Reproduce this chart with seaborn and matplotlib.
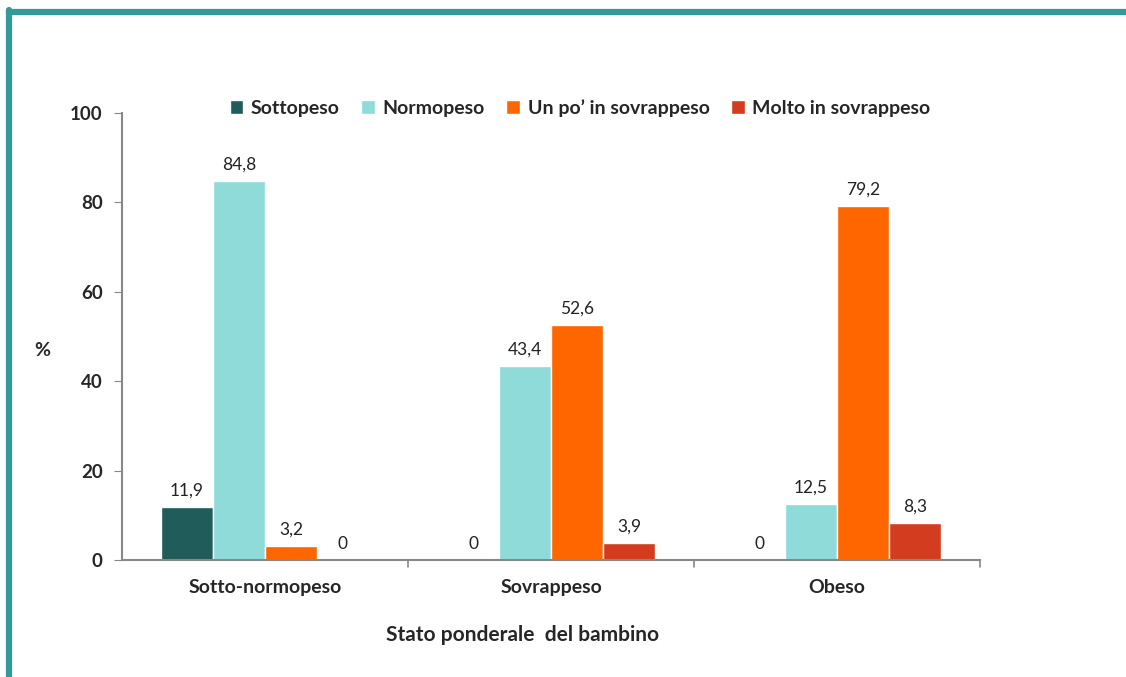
import pandas as pd
import matplotlib.pyplot as plt
import seaborn as sns
from matplotlib.lines import Line2D

# Data
categories = ['Sotto-normopeso', 'Sovrappeso', 'Obeso']
series = ['Sottopeso', 'Normopeso', 'Un po\u2019 in sovrappeso', 'Molto in sovrappeso']
sottopeso = [11.9, 0, 0]
normopeso = [84.8, 43.4, 12.5]
un_po = [3.2, 52.6, 79.2]
molto = [0, 3.9, 8.3]
colors = ['#1F5C5A', '#8FDBDA', '#FF6600', '#D33C1E']


def build_frame():
    # Long-format table for seaborn
    rows = []
    for name, values in zip(series, [sottopeso, normopeso, un_po, molto]):
        for cat, v in zip(categories, values):
            rows.append({'stato': cat, 'serie': name, 'valore': v})
    return pd.DataFrame(rows)


def fmt(v):
    return '0' if v == 0 else f'{v:.1f}'.replace('.', ',')


if __name__ == "__main__":
    df = build_frame()

    sns.set_style('white')
    plt.rcParams['font.family'] = ['Lato', 'DejaVu Sans']

    fig = plt.figure(figsize=(11.26, 6.77), dpi=100)
    ax = fig.add_axes([122 / 1126, 1 - 560 / 677, 858 / 1126, 447 / 677])

    sns.barplot(data=df, x='stato', y='valore', hue='serie', palette=colors,
                width=0.727, saturation=1, ax=ax, legend=True)

    for cont in ax.containers:
        ax.bar_label(cont, labels=[fmt(b.get_height()) for b in cont],
                     padding=6, fontsize=12.5, color='#222222')

    ax.set_ylim(0, 100)
    ax.set_xlim(-0.5, 2.5)
    ax.set_yticks([0, 20, 40, 60, 80, 100])
    ax.set_xticks([0, 1, 2])
    ax.set_xticklabels(categories, fontsize=14, fontweight='bold')
    for lab in ax.get_yticklabels():
        lab.set_fontweight('bold')
        lab.set_fontsize(13.5)
    ax.tick_params(axis='y', left=True, length=6, color='#888888', pad=8)
    ax.tick_params(axis='x', bottom=False, pad=10)
    # category boundary ticks on x axis
    for xb in [0.5, 1.5, 2.5]:
        ax.plot([xb, xb], [0, -1.5], color='#888888', lw=1.2, clip_on=False)

    sns.despine(ax=ax, top=True, right=True)
    for side in ['left', 'bottom']:
        ax.spines[side].set_color('#888888')
        ax.spines[side].set_linewidth(1.5)

    ax.set_xlabel('')
    ax.set_ylabel('')
    fig.text(42 / 1126, 1 - 350 / 677, '%', fontsize=14, fontweight='bold',
             ha='center', va='center')
    fig.text(523 / 1126, 1 - 635 / 677, 'Stato ponderale  del bambino',
             fontsize=15, fontweight='bold', ha='center', va='center')

    handles, labels = ax.get_legend_handles_labels()
    ax.legend(handles, labels, ncol=4, loc='center', frameon=False,
              bbox_to_anchor=(580 / 1126, 1 - 108 / 677),
              bbox_transform=fig.transFigure, handlelength=0.7,
              handleheight=0.7, handletextpad=0.4, columnspacing=1.1,
              prop={'weight': 'bold', 'size': 14})

    # teal frame lines at top and left
    teal = '#339999'
    fig.add_artist(Line2D([9 / 1126, 1], [1 - 12 / 677, 1 - 12 / 677],
                          color=teal, lw=4.5, transform=fig.transFigure))
    fig.add_artist(Line2D([9 / 1126, 9 / 1126], [0, 1 - 10 / 677],
                          color=teal, lw=4.5, transform=fig.transFigure))

    fig.savefig('out.png', dpi=100)
